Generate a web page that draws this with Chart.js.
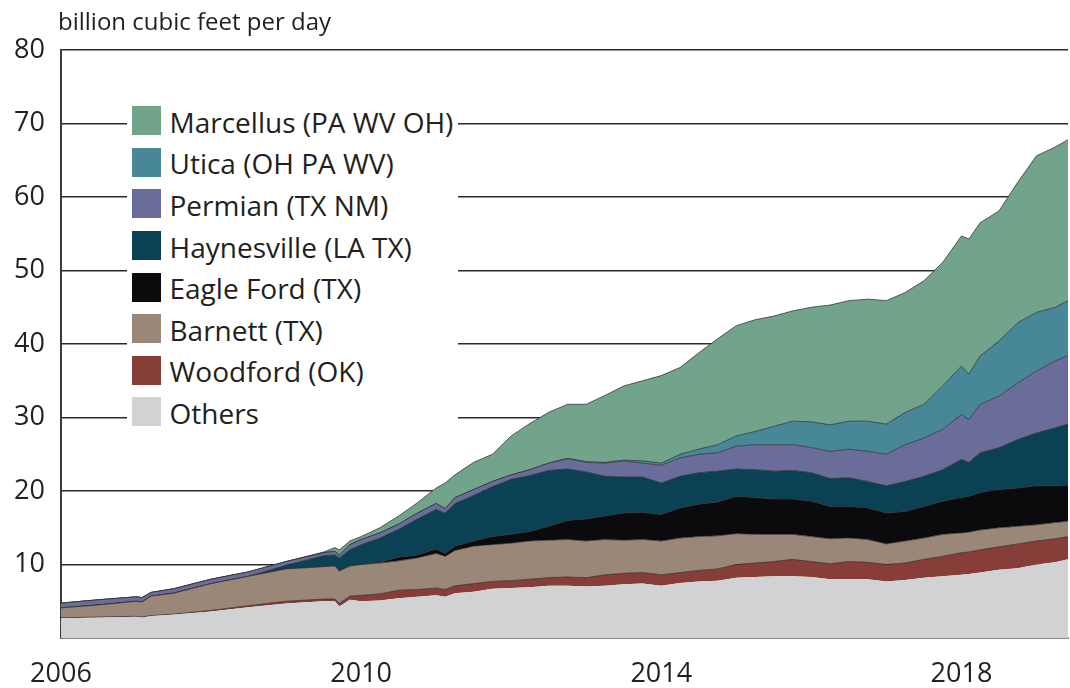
<!DOCTYPE html>
<html>
<head>
  <title>Shale gas production by play</title>
  <script src="https://cdn.jsdelivr.net/npm/chart.js"></script>
  <style>
    body { margin: 0; background: #fff; }
    #wrap {
      position: relative;
      width: 1070px;
      height: 688px;
      font-family: 'Open Sans', sans-serif;
      color: #231f20;
    }
    #unit {
      position: absolute;
      left: 58px;
      top: 9px;
      font-size: 24px;
      line-height: 1;
      white-space: nowrap;
    }
    #legend {
      position: absolute;
      left: 127px;
      top: 96px;
      width: 331px;
      height: 340px;
      padding-top: 4px;
      box-sizing: border-box;
      background: #fff;
    }
    .item { display: flex; align-items: center; height: 41.6px; }
    .sw { width: 29px; height: 29px; margin-left: 4.5px; margin-right: 9px; flex: none; }
    .lbl { font-size: 28px; line-height: 1; padding-top: 2px; white-space: nowrap; }
  </style>
</head>
<body>
  <div id="wrap">
    <canvas id="chart" width="1070" height="688"></canvas>
    <div id="unit">billion cubic feet per day</div>
    <div id="legend"></div>
  </div>

  <script>
    // decimal years of the sampled points
    const years = [2006.0, 2006.5, 2007.0, 2007.08, 2007.2, 2007.5, 2008.0, 2008.5, 2009.0, 2009.5,
      2009.65, 2009.71, 2009.85, 2010.0, 2010.25, 2010.5, 2010.75, 2011.0, 2011.12, 2011.25,
      2011.5, 2011.75, 2012.0, 2012.25, 2012.5, 2012.75, 2013.0, 2013.25, 2013.5, 2013.75,
      2014.0, 2014.25, 2014.5, 2014.75, 2015.0, 2015.25, 2015.5, 2015.75, 2016.0, 2016.25,
      2016.5, 2016.75, 2017.0, 2017.25, 2017.5, 2017.75, 2018.0, 2018.1, 2018.25, 2018.5,
      2018.75, 2019.0, 2019.25, 2019.42];

    // billion cubic feet per day, one value per year above
    const others = [2.7, 2.8, 2.9, 2.8, 3.0, 3.2, 3.6, 4.2, 4.7, 5.0,
      5.0, 4.3, 5.2, 5.0, 5.1, 5.4, 5.6, 5.8, 5.6, 6.1,
      6.3, 6.7, 6.8, 6.9, 7.1, 7.1, 7.0, 7.1, 7.3, 7.4,
      7.1, 7.5, 7.7, 7.8, 8.2, 8.3, 8.4, 8.4, 8.3, 8.0,
      8.0, 8.0, 7.7, 7.9, 8.2, 8.4, 8.6, 8.7, 8.9, 9.3,
      9.5, 10.0, 10.3, 10.7];
    const woodford = [0.05, 0.05, 0.05, 0.05, 0.05, 0.05, 0.15, 0.2, 0.3, 0.3,
      0.3, 0.4, 0.5, 0.8, 0.9, 1.1, 1.0, 1.0, 1.0, 1.0,
      1.1, 1.0, 1.0, 1.1, 1.1, 1.2, 1.2, 1.5, 1.5, 1.5,
      1.5, 1.4, 1.5, 1.6, 1.8, 1.9, 2.0, 2.3, 2.1, 2.1,
      2.4, 2.3, 2.3, 2.3, 2.5, 2.7, 3.0, 3.0, 3.1, 3.1,
      3.3, 3.2, 3.2, 3.1];
    const barnett = [1.35, 1.65, 2.05, 2.05, 2.65, 2.85, 3.65, 4.0, 4.4, 4.4,
      4.5, 4.4, 4.1, 4.2, 4.2, 4.0, 4.3, 4.7, 4.5, 4.8,
      5.1, 5.0, 5.1, 5.2, 5.1, 5.1, 5.0, 4.8, 4.5, 4.5,
      4.6, 4.7, 4.6, 4.5, 4.2, 3.9, 3.7, 3.4, 3.4, 3.4,
      3.2, 3.1, 2.8, 3.0, 2.9, 3.0, 2.7, 2.7, 2.7, 2.6,
      2.4, 2.2, 2.2, 2.1];
    const eagleFord = [0, 0, 0, 0, 0, 0, 0, 0, 0, 0,
      0, 0, 0, 0, 0.1, 0.5, 0.4, 0.6, 0.4, 0.6,
      0.7, 1.1, 1.2, 1.3, 1.9, 2.6, 3.0, 3.2, 3.7, 3.7,
      3.6, 4.1, 4.4, 4.6, 5.1, 5.0, 4.8, 4.8, 4.8, 4.4,
      4.3, 4.3, 4.2, 4.0, 4.3, 4.5, 4.8, 4.9, 5.1, 5.2,
      5.2, 5.3, 5.0, 4.9];
    const haynesville = [0, 0, 0, 0, 0, 0, 0, 0, 0.5, 1.5,
      1.5, 1.8, 2.2, 2.7, 3.3, 3.8, 4.9, 5.4, 5.5, 5.8,
      6.2, 6.8, 7.5, 7.6, 7.6, 7.0, 6.4, 5.4, 4.9, 4.8,
      4.3, 4.3, 4.3, 4.2, 3.7, 3.8, 3.8, 3.9, 3.9, 3.8,
      3.9, 3.6, 3.7, 4.1, 4.1, 4.3, 5.2, 4.6, 5.4, 5.7,
      6.6, 7.2, 7.9, 8.3];
    const permian = [0.65, 0.7, 0.6, 0.6, 0.5, 0.6, 0.6, 0.6, 0.5, 0.4,
      0.5, 0.4, 0.7, 0.7, 0.7, 0.7, 0.8, 0.8, 0.6, 0.8,
      0.8, 0.7, 0.6, 0.8, 1.0, 1.4, 1.3, 1.8, 2.2, 1.9,
      2.4, 2.5, 2.5, 2.5, 3.1, 3.4, 3.6, 3.5, 3.4, 3.7,
      3.9, 4.1, 4.3, 5.0, 5.2, 5.5, 6.1, 5.8, 6.6, 7.0,
      7.7, 8.4, 9.1, 9.3];
    const utica = [0, 0, 0, 0, 0, 0, 0, 0, 0, 0,
      0, 0, 0, 0, 0, 0, 0, 0, 0, 0,
      0, 0, 0, 0, 0, 0.05, 0.1, 0.1, 0.1, 0.3,
      0.3, 0.5, 0.7, 1.1, 1.4, 1.8, 2.5, 3.2, 3.5, 3.6,
      3.8, 4.1, 4.1, 4.4, 4.6, 5.9, 6.6, 6.2, 6.6, 7.5,
      8.2, 8.0, 7.3, 7.5];
    const marcellus = [0, 0, 0, 0, 0, 0, 0, 0, 0, 0.1,
      0.5, 0.7, 0.5, 0.4, 0.7, 1.1, 1.4, 2.1, 3.5, 3.1,
      3.7, 3.7, 5.3, 6.3, 6.9, 7.35, 7.8, 9.1, 10.1, 10.9,
      11.9, 11.8, 13.1, 14.4, 15.0, 15.2, 15.0, 15.0, 15.6, 16.3,
      16.4, 16.6, 16.8, 16.3, 16.8, 16.8, 17.7, 18.4, 18.1, 17.7,
      19.1, 21.3, 21.8, 21.9];

    const xTicks = [2006, 2010, 2014, 2018];

    // bottom layer first
    const series = [
      { label: 'Others', values: others, color: '#d1d2d4' },
      { label: 'Woodford (OK)', values: woodford, color: '#873d38' },
      { label: 'Barnett (TX)', values: barnett, color: '#9b8777' },
      { label: 'Eagle Ford (TX)', values: eagleFord, color: '#0b0b0e' },
      { label: 'Haynesville (LA TX)', values: haynesville, color: '#0b4155' },
      { label: 'Permian (TX NM)', values: permian, color: '#6a6d9a' },
      { label: 'Utica (OH PA WV)', values: utica, color: '#488797' },
      { label: 'Marcellus (PA WV OH)', values: marcellus, color: '#72a48b' }
    ];

    const textColor = '#231f20';
    const tickFont = { family: "'Open Sans', sans-serif", size: 27 };

    const datasets = series.map((s, i) => ({
      label: s.label,
      data: s.values.map((v, j) => ({ x: years[j], y: v })),
      backgroundColor: s.color,
      borderColor: i === 0 ? s.color : 'rgba(45,45,45,0.75)',
      borderWidth: i === 0 ? 0 : 1,
      fill: i === 0 ? 'origin' : '-1',
      pointRadius: 0,
      tension: 0
    }));

    new Chart(document.getElementById('chart'), {
      type: 'line',
      data: { datasets },
      options: {
        responsive: false,
        animation: false,
        layout: { padding: { top: 50, right: 2, left: 0, bottom: 0 } },
        plugins: { legend: { display: false }, tooltip: { enabled: false } },
        scales: {
          x: {
            type: 'linear',
            min: 2006,
            max: 2019.42,
            afterBuildTicks: (scale) => { scale.ticks = xTicks.map(v => ({ value: v })); },
            afterFit: (scale) => { scale.height = 50; },
            grid: { display: false, drawTicks: false },
            border: { color: '#8c8c8c', width: 2 },
            ticks: {
              autoSkip: false,
              maxRotation: 0,
              padding: 20,
              color: textColor,
              font: tickFont,
              callback: (v) => String(v)
            }
          },
          y: {
            stacked: true,
            min: 0,
            max: 80,
            afterFit: (scale) => { scale.width = 61; },
            grid: {
              drawTicks: false,
              lineWidth: 1.4,
              color: (c) => c.tick && c.tick.value === 0 ? 'rgba(0,0,0,0)' : '#2b2b2b'
            },
            border: { color: '#3a3a3a', width: 2 },
            ticks: {
              stepSize: 10,
              padding: 16,
              color: textColor,
              font: tickFont,
              callback: (v) => v === 0 ? '' : v
            }
          }
        }
      }
    });

    // Legend, top to bottom
    const legend = document.getElementById('legend');
    series.slice().reverse().forEach(s => {
      const row = document.createElement('div');
      row.className = 'item';
      row.innerHTML = `<div class="sw" style="background:${s.color}"></div><div class="lbl">${s.label}</div>`;
      legend.appendChild(row);
    });
  </script>
</body>
</html>
